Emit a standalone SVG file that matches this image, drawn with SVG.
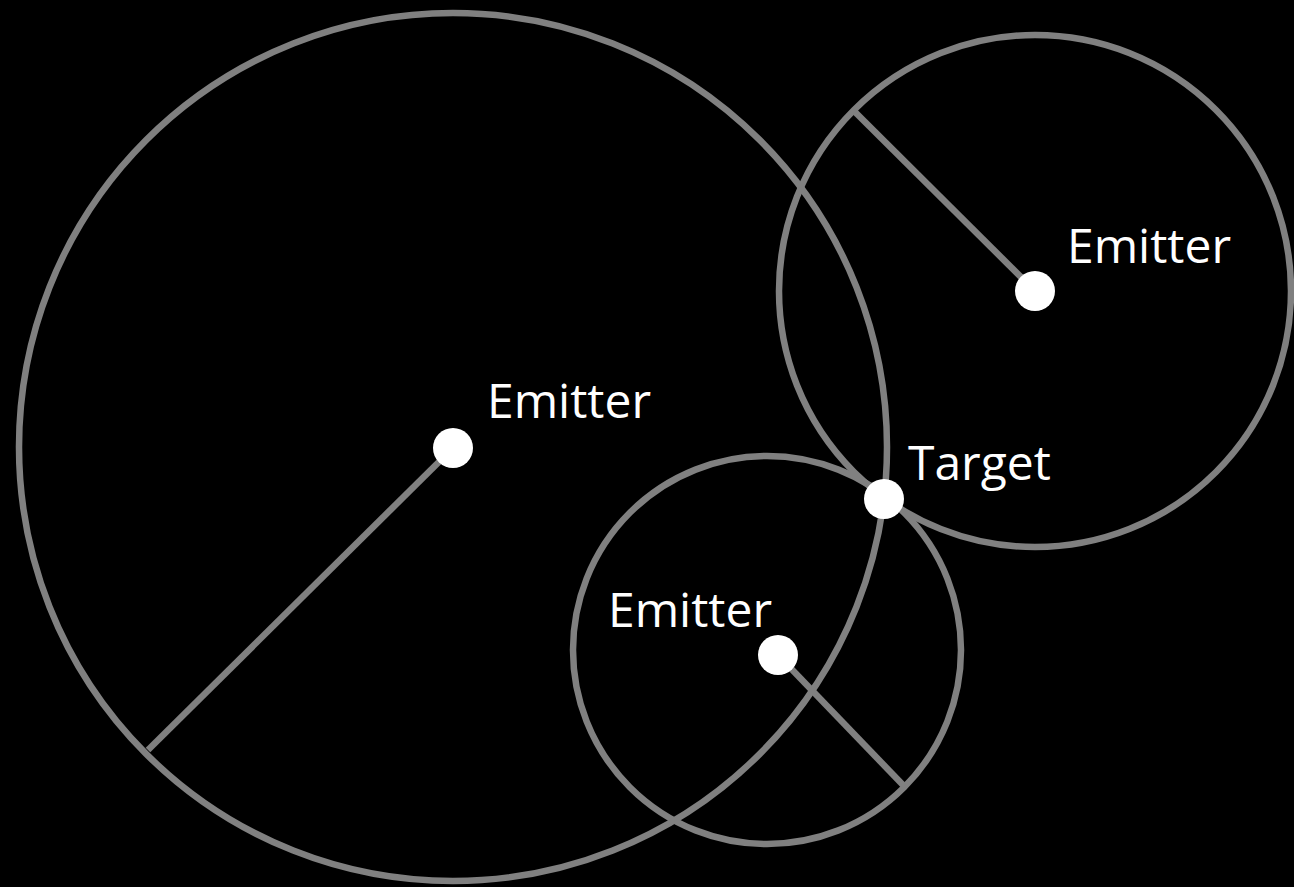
<svg xmlns="http://www.w3.org/2000/svg" width="1294" height="887" viewBox="0 0 1294 887">
<style>
.ring{fill:none;stroke:#808080;stroke-width:6.5}
.rad{stroke:#808080;stroke-width:6.5}
.dot{fill:#ffffff}
.lbl{fill:#ffffff;font-family:"Open Sans","Noto Sans",sans-serif;font-size:48px}
</style>
<rect width="1294" height="887" fill="#000000"/>
<g id="connectors">
<circle class="ring" cx="453" cy="447" r="434"/>
<circle class="ring" cx="1035" cy="291" r="256"/>
<circle class="ring" cx="767" cy="650" r="194"/>
<line class="rad" x1="453" y1="448" x2="148" y2="750"/>
<line class="rad" x1="1035" y1="291" x2="855" y2="112"/>
<line class="rad" x1="778" y1="655" x2="903" y2="785"/>
</g>
<g id="emitter-big">
<circle class="dot" cx="453" cy="448" r="20"/>
<text class="lbl" x="487" y="418">Emitter</text>
</g>
<g id="emitter-right">
<circle class="dot" cx="1035" cy="291" r="20"/>
<text class="lbl" x="1067" y="263">Emitter</text>
</g>
<g id="emitter-small">
<circle class="dot" cx="778" cy="655" r="20"/>
<text class="lbl" x="608" y="627">Emitter</text>
</g>
<g id="target">
<circle class="dot" cx="884" cy="499" r="20"/>
<text class="lbl" x="908" y="480">Target</text>
</g>
</svg>
